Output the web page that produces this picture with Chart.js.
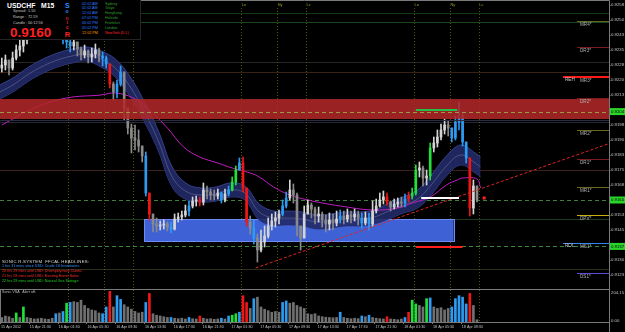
<!DOCTYPE html>
<html>
<head>
<meta charset="utf-8">
<script src="https://cdn.jsdelivr.net/npm/chart.js@4.4.0/dist/chart.umd.min.js"></script>
<style>
html, body { margin: 0; padding: 0; background: #000; overflow: hidden; }
#wrap { position: relative; width: 625px; height: 332px; background: #000; font-family: "Liberation Sans", Arial, sans-serif; }
#main { position: absolute; left: 0; top: 0; }
#vol { position: absolute; left: 0; top: 289px; }
.t { position: absolute; white-space: nowrap; line-height: 1; }
#info { position: absolute; left: 0; top: 0; width: 140px; height: 39px; background: #000; border-right: 1px solid #242424; border-bottom: 1px solid #242424; }
</style>
</head>
<body>
<div id="wrap">
  <canvas id="main" width="625" height="289"></canvas>
  <canvas id="vol" width="625" height="43"></canvas>

  <div id="info">
    <span class="t" style="left:7px;top:2.6px;font-weight:bold;font-size:6.8px;color:#fff">USDCHF</span>
    <span class="t" style="left:41px;top:2.6px;font-weight:bold;font-size:6.8px;color:#fff">M15</span>
    <span class="t" style="left:13px;top:10px;font-size:3.8px;color:#c4c4c4">Spread :</span>
    <span class="t" style="left:28px;top:10px;font-size:3.8px;color:#c4c4c4">1.50</span>
    <span class="t" style="left:13px;top:15.6px;font-size:3.8px;color:#c4c4c4">Range :</span>
    <span class="t" style="left:28px;top:15.6px;font-size:3.8px;color:#c4c4c4">72.59</span>
    <span class="t" style="left:13px;top:21.8px;font-size:3.8px;color:#c4c4c4">Candle :</span>
    <span class="t" style="left:28px;top:21.8px;font-size:3.8px;color:#c4c4c4">00:12:56</span>
    <span class="t" style="left:10px;top:26px;font-weight:bold;font-size:13.5px;color:#ff2020">0.9160</span>
    <span class="t" style="left:65px;top:1.5px;font-weight:bold;font-size:7px;color:#2a8cff">S</span>
    <span class="t" style="left:65.6px;top:9px;font-weight:bold;font-size:5px;color:#2a8cff">o</span>
    <span class="t" style="left:65.6px;top:16px;font-weight:bold;font-size:5px;color:#c02020">n</span>
    <span class="t" style="left:66.4px;top:20.3px;font-weight:bold;font-size:5px;color:#e02020">i</span>
    <span class="t" style="left:65.8px;top:25px;font-weight:bold;font-size:5px;color:#e02020">c</span>
    <span class="t" style="left:64.8px;top:30.5px;font-weight:bold;font-size:7.5px;color:#ff2020">R</span>
    <div id="clocks"></div>
  </div>

  <div id="news"></div>
  <span class="t" style="left:2px;top:291.2px;font-size:3.7px;color:#bdbdbd">Sonic VSA &nbsp; Alert off.</span>
</div>

<script>
// --- M15 bar axis: bar 0 = 15 Apr 2012 17:30, candles are 30 min (2 bars) each ---
const timeLabels = [
  "15 Apr 2012", "15 Apr 21:30", "16 Apr 01:30", "16 Apr 05:30", "16 Apr 09:30",
  "16 Apr 13:30", "16 Apr 17:30", "16 Apr 21:30", "17 Apr 01:30", "17 Apr 05:30",
  "17 Apr 09:30", "17 Apr 13:30", "17 Apr 17:30", "17 Apr 21:30", "18 Apr 01:30",
  "18 Apr 05:30", "18 Apr 09:30"
];
const barsPerLabel = 16;

const firstOpen = 0.92260;
const candleClose = [
  0.92275,0.92300,0.92260,0.92310,0.92350,0.92370,0.92400,0.92430,0.92460,0.92480,
  0.92500,0.92520,0.92540,0.92515,0.92495,0.92470,0.92445,0.92410,0.92390,0.92370,
  0.92390,0.92355,0.92325,0.92345,0.92315,0.92330,0.92350,0.92320,0.92310,0.92280,
  0.92180,0.92140,0.92180,0.92240,0.92060,0.91960,0.91910,0.91900,0.91870,0.91820,
  0.91635,0.91530,0.91480,0.91470,0.91475,0.91480,0.91465,0.91455,0.91505,0.91515,
  0.91525,0.91545,0.91570,0.91595,0.91600,0.91590,0.91650,0.91640,0.91625,0.91620,
  0.91635,0.91600,0.91630,0.91650,0.91690,0.91750,0.91785,0.91660,0.91490,0.91460,
  0.91410,0.91350,0.91390,0.91420,0.91470,0.91495,0.91510,0.91530,0.91570,0.91610,
  0.91650,0.91625,0.91470,0.91410,0.91530,0.91575,0.91555,0.91520,0.91530,0.91500,
  0.91480,0.91500,0.91485,0.91505,0.91520,0.91505,0.91525,0.91515,0.91530,0.91510,
  0.91485,0.91510,0.91480,0.91545,0.91570,0.91600,0.91615,0.91590,0.91565,0.91580,
  0.91590,0.91585,0.91605,0.91620,0.91635,0.91750,0.91760,0.91710,0.91720,0.91860,
  0.91885,0.91915,0.91950,0.91975,0.91960,0.91910,0.91990,0.92010,0.91890,0.91810,
  0.91560,0.91670,0.91600
];
const candleHigh = [
  0.92310,0.92325,0.92300,0.92340,0.92375,0.92400,0.92430,0.92460,0.92490,0.92510,
  0.92535,0.92555,0.92575,0.92555,0.92530,0.92505,0.92480,0.92450,0.92430,0.92410,
  0.92420,0.92385,0.92365,0.92375,0.92350,0.92360,0.92380,0.92360,0.92340,0.92320,
  0.92280,0.92190,0.92200,0.92270,0.92240,0.92060,0.91980,0.91975,0.91950,0.91870,
  0.91840,0.91635,0.91530,0.91510,0.91495,0.91500,0.91490,0.91490,0.91530,0.91535,
  0.91545,0.91575,0.91595,0.91615,0.91620,0.91615,0.91685,0.91670,0.91655,0.91650,
  0.91655,0.91640,0.91655,0.91670,0.91715,0.91770,0.91810,0.91815,0.91660,0.91520,
  0.91500,0.91430,0.91450,0.91470,0.91510,0.91530,0.91540,0.91550,0.91600,0.91640,
  0.91700,0.91680,0.91635,0.91470,0.91570,0.91600,0.91585,0.91565,0.91565,0.91540,
  0.91525,0.91535,0.91530,0.91545,0.91550,0.91545,0.91555,0.91545,0.91555,0.91545,
  0.91535,0.91540,0.91535,0.91595,0.91605,0.91635,0.91645,0.91635,0.91595,0.91605,
  0.91610,0.91615,0.91630,0.91640,0.91660,0.91775,0.91790,0.91770,0.91750,0.91885,
  0.91915,0.91950,0.91980,0.92005,0.91995,0.91960,0.92020,0.92090,0.92030,0.91890,
  0.91810,0.91700,0.91670
];
const candleLow = [
  0.92240,0.92250,0.92225,0.92250,0.92300,0.92320,0.92340,0.92380,0.92410,0.92440,
  0.92460,0.92480,0.92500,0.92480,0.92460,0.92435,0.92410,0.92380,0.92360,0.92340,
  0.92350,0.92320,0.92300,0.92310,0.92285,0.92290,0.92310,0.92290,0.92270,0.92260,
  0.92160,0.92100,0.92110,0.92170,0.92000,0.91930,0.91835,0.91850,0.91840,0.91790,
  0.91620,0.91500,0.91440,0.91440,0.91450,0.91455,0.91445,0.91435,0.91450,0.91490,
  0.91500,0.91515,0.91520,0.91560,0.91570,0.91570,0.91575,0.91605,0.91600,0.91600,
  0.91605,0.91585,0.91590,0.91620,0.91645,0.91675,0.91750,0.91640,0.91470,0.91430,
  0.91380,0.91290,0.91340,0.91365,0.91410,0.91450,0.91465,0.91480,0.91520,0.91560,
  0.91600,0.91585,0.91420,0.91350,0.91410,0.91530,0.91510,0.91480,0.91490,0.91465,
  0.91440,0.91450,0.91450,0.91470,0.91485,0.91480,0.91490,0.91485,0.91495,0.91475,
  0.91460,0.91475,0.91450,0.91470,0.91535,0.91565,0.91580,0.91575,0.91545,0.91555,
  0.91565,0.91565,0.91565,0.91590,0.91605,0.91625,0.91715,0.91670,0.91675,0.91700,
  0.91840,0.91865,0.91900,0.91930,0.91920,0.91890,0.91900,0.91950,0.91870,0.91785,
  0.91520,0.91530,0.91590
];
// Sonic VSA bar type on the candles: 0 normal, 1 rising volume (blue), 2 climax (red), 3 strong (green)
const candleVsa = [
  0,0,0,0,0,0,0,0,0,0, 0,0,0,0,0,1,0,1,1,1, 0,0,0,0,0,0,0,0,1,1,
  2,0,1,1,0,0,0,0,0,0, 1,2,0,0,0,0,0,1,0,0, 0,0,1,0,0,2,0,0,0,0,
  0,1,0,1,3,3,1,2,2,0, 1,0,0,0,0,0,0,0,1,1, 0,0,0,0,0,0,0,0,0,0,
  0,0,0,0,1,0,0,0,0,0, 1,0,1,0,0,0,0,2,0,0, 0,0,1,2,3,3,0,0,0,3,
  0,0,0,0,0,1,1,1,1,1, 2,0,0
];
// same classification as painted on the volume histogram
const volumeVsa = [
  0,0,0,0,3,0,3,0,0,0, 0,0,0,0,0,1,0,1,3,1, 0,0,0,0,0,0,0,0,1,1,
  2,0,1,1,0,0,0,0,0,0, 1,2,0,0,0,0,0,1,0,0, 0,0,1,0,0,2,0,0,0,0,
  0,1,0,1,3,3,1,2,2,0, 1,0,0,0,0,0,0,0,1,1, 0,0,0,0,0,0,0,0,0,0,
  0,0,0,0,1,0,0,0,0,0, 1,0,1,0,0,0,0,2,0,0, 0,0,1,2,3,3,0,0,3,1,
  0,0,0,0,0,1,1,1,1,1, 2,0,0
];
const candleVolume = [
  30,40,35,25,60,30,100,30,25,20, 22,25,20,18,25,55,60,70,125,130,
  135,130,145,110,90,80,75,60,55,100, 204,100,175,150,115,100,85,70,60,65,
  130,190,55,45,40,35,30,30,25,22, 25,20,30,22,20,40,25,20,22,18,
  20,25,20,40,45,55,65,175,130,90, 155,165,100,85,75,65,70,65,130,140,
  125,130,110,100,90,55,50,55,40,35, 32,30,28,30,65,30,25,22,25,22,
  40,35,45,30,25,22,20,35,20,18, 15,20,30,65,145,120,110,100,155,160,
  100,90,95,80,90,100,155,175,165,120, 190,110,15
];
const volumeMax = 204.15;

// dragon band (EMA high / EMA low)
const bandBars = [0,8,16,24,32,40,48,56,64,72,80,88,96,104,112,120,128,136,144,152,160,168,176,184,192,200,208,216,224,232,240,248,256,264,267];
const bandHigh = [0.92175,0.92215,0.92265,0.92305,0.92335,0.92355,0.92365,0.92345,0.92305,0.92220,0.92095,0.91945,0.91760,0.91680,0.91660,0.91665,0.91685,0.91670,0.91580,0.91545,0.91545,0.91540,0.91525,0.91530,0.91540,0.91540,0.91550,0.91585,0.91615,0.91650,0.91730,0.91820,0.91875,0.91835,0.91815];
const bandLow  = [0.92105,0.92145,0.92195,0.92235,0.92265,0.92285,0.92295,0.92265,0.92215,0.92120,0.91995,0.91845,0.91660,0.91600,0.91590,0.91595,0.91615,0.91600,0.91500,0.91475,0.91475,0.91470,0.91455,0.91460,0.91470,0.91470,0.91480,0.91505,0.91535,0.91560,0.91630,0.91720,0.91775,0.91735,0.91715];

// slow moving average (magenta)
const maBars   = [1,19,37,56,64,74,83,93,102,111,121,129,139,144,152,161,171,179,189,207,221,229,239,248,254,257,265,267];
const maPrices = [0.91975,0.92060,0.92110,0.92125,0.92135,0.92110,0.92050,0.91960,0.91865,0.91815,0.91785,0.91760,0.91735,0.91715,0.91665,0.91625,0.91600,0.91585,0.91570,0.91550,0.91560,0.91585,0.91615,0.91675,0.91700,0.91710,0.91705,0.91660];

// trend line anchors
const trendBars = [142, 338];
const trendPrices = [0.91260, 0.91881];

// zones
const supplyZone = [0.92005, 0.92105];
const demandZone = [0.91395, 0.91505];
const demandBars = [80, 252];

// horizontal levels
const faintLevels = [0.92535, 0.92490, 0.92290, 0.92240, 0.91990, 0.91750, 0.91505, 0.91255];
const dashedLevels = [0.92042, 0.91600, 0.91368];
const priceTags = ["0.9204", "0.9160", "0.9137"];
const pivotNames = ["MR4*", "DR3*", "MR3*", "DR2*", "MR2*", "DR1*", "MR1*", "DPV*", "MS1*", "DS1*"];
const pivotPrices = [0.92495, 0.92365, 0.92215, 0.92110, 0.91950, 0.91805, 0.91665, 0.91525, 0.91385, 0.91235];
const rehPrice = 0.92215;
const rolPrice = 0.91385;

// short signal marks (green high, white entry, red low)
const markPrices = [0.92050, 0.91610, 0.91365];
const markStart = [231, 234, 231];
const markEnd = [254, 255, 257];
const bidBar = 269, bidPrice = 0.91610;

// sessions
const sessionNames = ["Lo", "Ny", "Lc", "Lo", "Ny", "Lc", "Lo", "Ny", "Lc"];
const sessionBars = [38, 58, 74, 134, 154, 170, 230, 250, 266];

// price axis
const yTickValues = [0.92575,0.9250,0.92425,0.9235,0.92275,0.9220,0.92125,0.9205,0.91975,0.9190,0.91825,0.9175,0.91675,0.9160,0.91525,0.9145,0.91375,0.9130,0.91225];
const yTickLabels = ["0.9258","0.9250","0.9243","0.9235","0.9228","0.9220","0.9213","0.9205","0.9198","0.9190","0.9183","0.9175","0.9168","0.9160","0.9153","0.9145","0.9138","0.9130","0.9123"];

// clocks + news
const clockTimes = ["02:02 AM", "01:02 AM", "12:02 AM", "07:02 PM", "06:02 PM", "05:02 PM", "12:02 PM"];
const clockCities = ["Sydney", "Tokyo", "Hongkong", "Helsinki", "Frankfurt", "London", "NewYork  (D.L)"];
const newsLines = [
  "1 hrs 31 mins since USD: Crude Oil Inventories",
  "20 hrs 29 mins until USD: Unemployment Claims",
  "21 hrs 59 mins until USD: Existing Home Sales",
  "22 hrs 29 mins until USD: Natural Gas Storage"
];

// ---------------- styling / drawing ----------------
const FONT = '"Liberation Sans", Arial, sans-serif';
const f = s => s + 'px ' + FONT;
const xMax = 609 / 1.8;

const candleBars = candleClose.map((_, k) => 2 * k + 1);
const candleOpen = candleClose.map((c, k) => k === 0 ? firstOpen : candleClose[k - 1]);
const vsaColors = [null, '#2e9bf2', '#f01616', '#22e03c'];
const candleColors = candleClose.map((c, k) => {
  if (candleVsa[k]) return vsaColors[candleVsa[k]];
  return c >= candleOpen[k] ? '#d4d4d4' : '#8a8a8a';
});
const volumeColors = volumeVsa.map(v => v ? vsaColors[v] : '#707070');

// clocks in the info box
const clocks = document.getElementById('clocks');
const clockY = [4.5, 9.3, 14.2, 19.2, 24, 29, 33.8];
clockTimes.forEach((t, i) => {
  const last = i === clockTimes.length - 1;
  clocks.insertAdjacentHTML('beforeend',
    `<span class="t" style="left:82px;top:${clockY[i] - 1.9}px;font-size:3.7px;color:${last ? '#ff9a00' : '#2f7cff'}">${t}</span>` +
    `<span class="t" style="left:105px;top:${clockY[i] - 1.9}px;font-size:3.7px;color:${last ? '#ff2a2a' : '#2ea02e'}">${clockCities[i]}</span>`);
});

// news block
const news = document.getElementById('news');
news.insertAdjacentHTML('beforeend',
  `<span class="t" style="left:2px;top:259.8px;font-size:4.3px;color:#d8d8d8;letter-spacing:0.25px">SONIC R.SYSTEM &nbsp;FFCAL HEADLINES:</span>`);
const newsColors = ['#3a8fff', '#ff2a2a', '#ff2a2a', '#22cc22'];
newsLines.forEach((line, i) => {
  news.insertAdjacentHTML('beforeend',
    `<span class="t" style="left:2px;top:${265.2 + i * 5}px;font-size:3.7px;color:${newsColors[i]}">${line}</span>`);
});

function hline(ctx, x0, x1, py, color, width, dash) {
  ctx.strokeStyle = color; ctx.lineWidth = width || 1;
  ctx.setLineDash(dash || []);
  ctx.beginPath(); ctx.moveTo(x0, py); ctx.lineTo(x1, py); ctx.stroke();
  ctx.setLineDash([]);
}

const faintColors = ['#0e3a0e', '#1c461c', '#262626', '#3a2418', '#26263a', '#3c2020', '#1c3a1c', '#2e2e18'];
const pivotColors = ['#5d6b24', '#7a1c1c', '#6a6a1e', '#7a1c1c', '#6a6a1e', '#7a1c1c', '#6a6a1e', '#c8b010', '#2f86ee', '#5b4bd6'];

const mainOverlay = {
  id: 'mainOverlay',
  beforeDatasetsDraw(chart) {
    const { ctx, chartArea: a, scales: { x, y } } = chart;
    const Y = v => Math.round(y.getPixelForValue(v)) + 0.5;
    ctx.save();
    faintLevels.forEach((p, i) => hline(ctx, a.left, a.right, Y(p), faintColors[i]));
    // session verticals
    ctx.strokeStyle = '#55550a'; ctx.lineWidth = 1; ctx.setLineDash([1, 2]);
    sessionBars.forEach(b => {
      const px = Math.round(x.getPixelForValue(b)) + 0.5;
      ctx.beginPath(); ctx.moveTo(px, a.top + 8); ctx.lineTo(px, a.bottom); ctx.stroke();
    });
    ctx.setLineDash([]);
    // demand zone
    const x0 = x.getPixelForValue(demandBars[0]), x1 = x.getPixelForValue(demandBars[1]);
    const t = y.getPixelForValue(demandZone[1]), b = y.getPixelForValue(demandZone[0]);
    ctx.fillStyle = 'rgba(66,102,226,0.95)';
    ctx.fillRect(x0, t, x1 - x0, b - t);
    ctx.strokeStyle = '#6f8cf2'; ctx.lineWidth = 1;
    ctx.strokeRect(Math.round(x0) + 0.5, Math.round(t) + 0.5, Math.round(x1 - x0), Math.round(b - t));
    // dashed full-width levels
    const dashCol = ['#8c8c3a', '#3b7f3b', '#3b8a3b'];
    dashedLevels.forEach((p, i) => hline(ctx, a.left, a.right, Y(p), dashCol[i], 1, [4, 3]));
    ctx.restore();
  },
  afterDatasetsDraw(chart) {
    const { ctx, chartArea: a, scales: { x, y } } = chart;
    const Y = v => Math.round(y.getPixelForValue(v)) + 0.5;
    ctx.save();
    // supply zone over candles, semi transparent
    const t = y.getPixelForValue(supplyZone[1]), b = y.getPixelForValue(supplyZone[0]);
    ctx.fillStyle = 'rgba(180,40,40,0.86)';
    ctx.fillRect(a.left, t, a.right - a.left, b - t);
    hline(ctx, a.left, a.right, Y(dashedLevels[0]), '#9a9a48', 1, [4, 3]);
    hline(ctx, a.left, a.right, Math.round(b) + 1.5, '#2a2a40');

    // pivot level stubs
    ctx.font = f(4.6); ctx.textBaseline = 'middle'; ctx.textAlign = 'left';
    pivotPrices.forEach((p, i) => {
      hline(ctx, a.right - 32, a.right, Y(p), pivotColors[i]);
      ctx.fillStyle = '#b0b0b0';
      ctx.fillText(pivotNames[i], a.right - 29, Y(p) + 3);
    });
    hline(ctx, a.right - 46, a.right, y.getPixelForValue(rehPrice), '#ff1a1a', 2);
    ctx.fillStyle = '#c8c8c8';
    ctx.fillText('REH', a.right - 44, y.getPixelForValue(rehPrice) + 3);
    hline(ctx, a.right - 46, a.right, Y(rolPrice), '#2f86ee');
    ctx.fillText('ROL', a.right - 44, y.getPixelForValue(rolPrice) + 3);

    // signal marks
    const markCol = ['#22c24a', '#ffffff', '#ff2020'];
    markPrices.forEach((p, i) => {
      hline(ctx, x.getPixelForValue(markStart[i]), x.getPixelForValue(markEnd[i]), y.getPixelForValue(p), markCol[i], 2);
    });
    ctx.fillStyle = '#ff2020';
    ctx.fillRect(x.getPixelForValue(bidBar) - 1.5, y.getPixelForValue(bidPrice) - 1.5, 3, 3);

    // session names
    ctx.font = f(3.9); ctx.fillStyle = '#a0a020'; ctx.textBaseline = 'middle';
    sessionBars.forEach((bar, i) => ctx.fillText(sessionNames[i], x.getPixelForValue(bar) + 0.5, a.top + 4.5));
    ctx.restore();
  },
  afterDraw(chart) {
    const { ctx, chartArea: a, scales: { y } } = chart;
    ctx.save();
    ctx.strokeStyle = '#7a7a7a'; ctx.lineWidth = 1;
    ctx.beginPath(); ctx.moveTo(a.left, 0.5); ctx.lineTo(a.right + 0.5, 0.5); ctx.lineTo(a.right + 0.5, chart.height); ctx.stroke();
    ctx.font = f(4.3); ctx.textBaseline = 'middle'; ctx.textAlign = 'left';
    const tagY = dashedLevels.map(p => y.getPixelForValue(p));
    yTickValues.forEach((v, i) => {
      const py = y.getPixelForValue(v);
      if (tagY.some(ty => Math.abs(ty - py) < 5)) return;
      ctx.fillStyle = '#c4c4c4';
      ctx.fillText(yTickLabels[i], a.right + 2, py);
      hline(ctx, a.right, a.right + 1.5, Math.round(py) + 0.5, '#7a7a7a');
    });
    dashedLevels.forEach((p, i) => {
      const py = y.getPixelForValue(p);
      ctx.fillStyle = '#2bd62b';
      ctx.fillRect(a.right + 1, py - 3.5, 16, 7);
      ctx.fillStyle = '#000';
      ctx.fillText(priceTags[i], a.right + 2, py + 0.2);
    });
    ctx.restore();
  }
};

new Chart(document.getElementById('main'), {
  type: 'bar',
  data: {
    datasets: [
      {
        type: 'bar', order: 1, grouped: false, barThickness: 2, borderWidth: 0,
        data: candleBars.map((b, k) => ({ x: b, y: [candleOpen[k], candleClose[k]] })),
        backgroundColor: candleColors
      },
      {
        type: 'bar', order: 2, grouped: false, barThickness: 1, borderWidth: 0,
        data: candleBars.map((b, k) => ({
          x: b,
          y: [Math.min(candleLow[k], candleOpen[k], candleClose[k]), Math.max(candleHigh[k], candleOpen[k], candleClose[k])]
        })),
        backgroundColor: candleColors
      },
      {
        type: 'line', order: 0, borderColor: '#e02424', borderWidth: 1, borderDash: [3, 2], pointRadius: 0,
        data: trendBars.map((b, i) => ({ x: b, y: trendPrices[i] }))
      },
      {
        type: 'line', order: 3, borderColor: '#c21cc2', borderWidth: 1, pointRadius: 0, tension: 0.4,
        data: maBars.map((b, i) => ({ x: b, y: maPrices[i] }))
      },
      {
        type: 'line', order: 4, borderColor: 'rgba(120,128,170,0.8)', borderWidth: 0.6, pointRadius: 0, tension: 0.4,
        data: bandBars.map((b, i) => ({ x: b, y: (bandHigh[i] + bandLow[i]) / 2 }))
      },
      {
        type: 'line', order: 5, borderColor: '#34408c', borderWidth: 1, pointRadius: 0, tension: 0.4,
        backgroundColor: 'rgba(34,42,104,0.9)', fill: '+1',
        data: bandBars.map((b, i) => ({ x: b, y: bandHigh[i] }))
      },
      {
        type: 'line', order: 6, borderColor: '#34408c', borderWidth: 1, pointRadius: 0, tension: 0.4, fill: false,
        data: bandBars.map((b, i) => ({ x: b, y: bandLow[i] }))
      }
    ]
  },
  options: {
    responsive: false,
    animation: false,
    events: [],
    layout: { padding: { left: 0, right: 16, top: 0, bottom: 0 } },
    plugins: { legend: { display: false }, tooltip: { enabled: false } },
    scales: {
      x: { type: 'linear', min: 0, max: xMax, offset: false, display: false },
      y: { type: 'linear', min: 0.91155, max: 0.92600, beginAtZero: false, display: false }
    }
  },
  plugins: [mainOverlay]
});

const volOverlay = {
  id: 'volOverlay',
  beforeDatasetsDraw(chart) {
    const { ctx, chartArea: a, scales: { x } } = chart;
    ctx.save();
    ctx.strokeStyle = '#55550a'; ctx.lineWidth = 1; ctx.setLineDash([1, 2]);
    sessionBars.forEach(b => {
      const px = Math.round(x.getPixelForValue(b)) + 0.5;
      ctx.beginPath(); ctx.moveTo(px, 1); ctx.lineTo(px, a.bottom); ctx.stroke();
    });
    ctx.restore();
  },
  afterDraw(chart) {
    const { ctx, chartArea: a, scales: { x, y } } = chart;
    ctx.save();
    ctx.strokeStyle = '#7a7a7a'; ctx.lineWidth = 1;
    ctx.strokeRect(0.5, 0.5, a.right, Math.round(a.bottom));
    ctx.beginPath(); ctx.moveTo(a.right + 0.5, 0); ctx.lineTo(a.right + 0.5, chart.height); ctx.stroke();
    ctx.font = f(4.3); ctx.fillStyle = '#c4c4c4'; ctx.textBaseline = 'middle'; ctx.textAlign = 'left';
    ctx.fillText(volumeMax.toFixed(2), a.right + 2, y.getPixelForValue(volumeMax) + 1.5);
    ctx.fillText('0.00', a.right + 2, y.getPixelForValue(0) - 1);
    ctx.font = f(3.7);
    timeLabels.forEach((lab, j) => {
      const px = x.getPixelForValue(j * barsPerLabel);
      ctx.strokeStyle = '#7a7a7a';
      ctx.beginPath(); ctx.moveTo(Math.round(px) + 0.5, a.bottom); ctx.lineTo(Math.round(px) + 0.5, a.bottom + 2); ctx.stroke();
      ctx.fillStyle = '#c4c4c4';
      ctx.fillText(lab, px + 1, a.bottom + 5.2);
    });
    ctx.restore();
  }
};

new Chart(document.getElementById('vol'), {
  type: 'bar',
  data: {
    datasets: [{
      grouped: false, barThickness: 2, borderWidth: 0,
      data: candleBars.map((b, k) => ({ x: b, y: candleVolume[k] })),
      backgroundColor: volumeColors
    }]
  },
  options: {
    responsive: false,
    animation: false,
    events: [],
    layout: { padding: { left: 0, right: 16, top: 2, bottom: 10 } },
    plugins: { legend: { display: false }, tooltip: { enabled: false } },
    scales: {
      x: { type: 'linear', min: 0, max: xMax, offset: false, display: false },
      y: { type: 'linear', min: 0, max: 206, display: false }
    }
  },
  plugins: [volOverlay]
});
</script>
</body>
</html>
